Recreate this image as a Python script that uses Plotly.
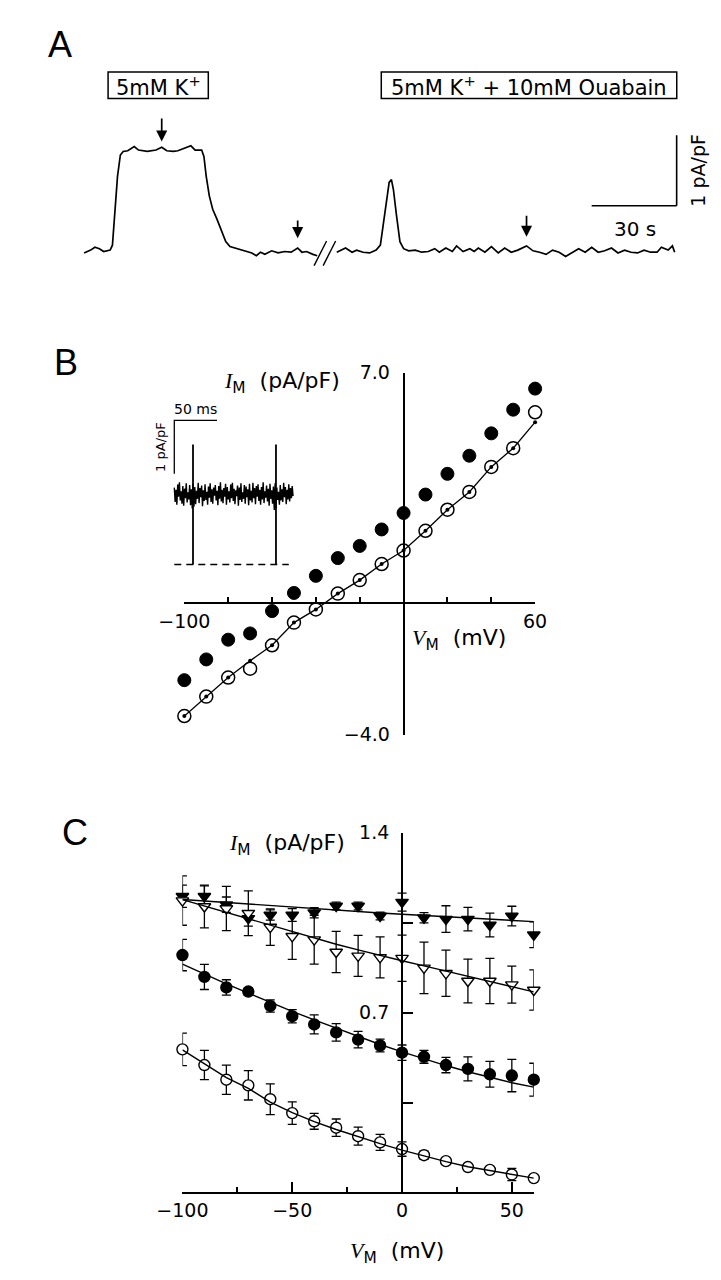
import plotly.graph_objects as go

W, H = 721, 1280


def fx(p):
    return p / W


def fy(p):
    return 1 - p / H


FONT = "DejaVu Sans"
LETTER_FONT = "Liberation Sans"

# ---------------- Panel A : current trace (pA/pF) vs time (s) ----------------
a_t1 = [0.0, 2.3, 3.8, 5.4, 6.9, 9.2, 10.0, 10.8, 11.8, 12.8, 13.8, 15.4, 17.7, 19.2, 22.3, 25.4, 27.4, 29.2,
        31.5, 33.1, 35.4, 37.7, 39.2, 41.5, 42.3, 43.1, 44.2, 45.4, 46.9, 48.5, 50.0, 51.5, 53.1, 55.4, 57.7,
        59.2, 60.8, 62.3, 63.8, 66.2, 68.5, 70.8, 73.1, 75.4, 76.9, 78.5, 80.8, 82.3]
a_i1 = [-0.01, 0.03, 0.07, 0.05, 0.01, 0.03, 0.10, 0.52, 1.08, 1.38, 1.43, 1.44, 1.50, 1.45, 1.43, 1.45, 1.49,
        1.44, 1.43, 1.44, 1.47, 1.51, 1.45, 1.45, 1.36, 1.08, 0.80, 0.61, 0.47, 0.31, 0.15, 0.08, 0.06, 0.03,
        0.0, -0.01, -0.05, 0.0, -0.03, 0.02, -0.01, 0.01, 0.0, 0.06, 0.0, 0.01, -0.03, -0.05]
a_t2 = [89.2, 90.8, 92.3, 94.6, 96.2, 98.5, 100.8, 103.1, 104.6, 105.4, 106.6, 107.7, 108.5, 109.2, 110.3,
        111.5, 112.8, 114.6, 116.9, 119.2, 121.5, 123.8, 125.4, 127.7, 130.0, 131.5, 133.8, 136.2, 137.7,
        139.2, 141.5, 143.8, 146.2, 148.5, 150.8, 153.1, 156.2, 158.5, 160.8, 163.1, 165.4, 167.7, 170.0,
        172.3, 174.6, 176.9, 179.2, 181.5, 183.8, 186.2, 188.5, 190.8, 193.1, 195.4, 197.7, 200.0, 202.3,
        203.8, 206.2, 207.7, 208.5]
a_i2 = [0.0, 0.03, 0.06, 0.0, 0.03, 0.0, -0.01, 0.03, 0.10, 0.33, 0.71, 0.99, 1.03, 0.89, 0.52, 0.15, 0.05,
        0.02, 0.03, 0.0, 0.01, 0.05, 0.0, 0.06, 0.01, 0.09, 0.01, 0.05, 0.01, 0.06, 0.0, 0.08, -0.01, 0.06,
        0.0, 0.03, 0.09, 0.02, 0.0, -0.03, 0.03, 0.0, -0.06, 0.0, 0.05, 0.0, 0.07, 0.0, 0.02, 0.06, -0.01,
        0.03, 0.0, -0.01, 0.03, 0.0, 0.0, 0.07, 0.03, 0.09, 0.0]
a_arrow_t = [27.4, 75.4, 156.2]
a_arrow_tip = [1.57, 0.20, 0.22]
a_arrow_tail = [1.92, 0.47, 0.54]
a_break_t = 85.0
a_bar_t_end = 209.2
a_bar_i0 = 0.66
a_bar_len_s = 30
a_bar_len_i = 1.0
a_box_labels = ["5mM K<sup>+</sup>", "5mM K<sup>+</sup> + 10mM Ouabain"]

# ---------------- Panel B : I-V (pA/pF vs mV) ----------------
vm_b = [-100, -90, -80, -70, -60, -50, -40, -30, -20, -10, 0, 10, 20, 30, 40, 50, 60]
b_open = [-3.43, -2.84, -2.26, -1.99, -1.28, -0.59, -0.19, 0.29, 0.70, 1.19, 1.60, 2.20, 2.84, 3.38, 4.14,
          4.71, 5.80]
b_open_fit = [-3.43, -2.84, -2.26, -1.75, -1.28, -0.59, -0.19, 0.29, 0.70, 1.19, 1.60, 2.20, 2.84, 3.38,
              4.14, 4.71, 5.50]
b_filled = [-2.34, -1.71, -1.11, -0.92, -0.24, 0.31, 0.83, 1.37, 1.74, 2.24, 2.74, 3.30, 3.93, 4.48, 5.16,
            5.88, 6.52]
b_xticks_major = [-100, 60]
b_xticks_minor = [-80, -60, -40, -20, 0, 20, 40]
b_xtick_text = ["\u2212100", "60"]
b_yticks = [-4.0, 7.0]
b_ytick_text = ["\u22124.0", "7.0"]

# inset of panel B: current (pA/pF) vs time (ms)
inset_dt_ms = 1.0
inset_noise = [1.44, 1.17, 1.40, 1.12, 1.50, 1.27, 1.54, 1.20, 1.37, 1.14,
               1.47, 1.10, 1.42, 1.24, 1.52, 1.16, 1.35, 1.22, 1.49, 1.11,
               1.41, 1.05, 1.51, 1.08, 1.45, 1.13, 1.38, 1.23, 1.53, 1.15,
               1.43, 1.26, 1.48, 1.09, 1.39, 1.19, 1.50, 1.21, 1.36, 1.12,
               1.46, 1.25, 1.52, 1.17, 1.41, 1.14, 1.44, 1.29, 1.49, 1.20,
               1.38, 1.11, 1.47, 1.23, 1.54, 1.18, 1.40, 1.15, 1.43, 1.27,
               1.51, 1.12, 1.45, 1.22, 1.37, 1.16, 1.50, 1.24, 1.53, 1.19,
               1.42, 1.13, 1.39, 1.28, 1.48, 1.10, 1.44, 1.21, 1.52, 1.17,
               1.35, 1.23, 1.49, 1.14, 1.46, 1.26, 1.41, 1.11, 1.51, 1.20,
               1.38, 1.16, 1.53, 1.24, 1.43, 1.13, 1.47, 1.27, 1.50, 1.19,
               1.40, 1.12, 1.45, 1.22, 1.54, 1.15, 1.37, 1.25, 1.48, 1.18,
               1.42, 1.10, 1.51, 1.23, 1.39, 1.14, 1.46, 1.02, 1.52, 1.06,
               1.44, 1.21, 1.36, 1.12, 1.49, 1.20, 1.41, 1.17, 1.53, 1.26,
               1.45, 1.13, 1.40, 1.22, 1.50, 1.18, 1.43, 1.24, 1.47, 1.28]
inset_spike_t = [21.9, 119.0]
inset_spike_top = [2.25, 2.25]
inset_spike_bottom = [0.0, 0.0]
inset_zero_t = [0.0, 134.0]
inset_bar_i0 = 1.70
inset_bar_len_ms = 50
inset_bar_len_i = 1.0

# ---------------- Panel C : mean I-V with SEM ----------------
vm_c = [-100, -90, -80, -70, -60, -50, -40, -30, -20, -10, 0, 10, 20, 30, 40, 50, 60]
c_tri_filled = [1.153, 1.153, 1.120, 1.067, 1.080, 1.080, 1.089, 1.115, 1.115, 1.076, 1.130, 1.069, 1.064,
                1.064, 1.041, 1.076, 1.003]
c_tri_filled_err = [0.043, 0.04, 0.03, 0.03, 0.02, 0.025, 0.02, 0.015, 0.015, 0.015, 0.035, 0.02, 0.052,
                    0.046, 0.046, 0.038, 0.05]
c_tri_filled_fit = [1.140, 1.134, 1.128, 1.122, 1.116, 1.110, 1.104, 1.099, 1.093, 1.088, 1.083, 1.078,
                    1.073, 1.068, 1.063, 1.058, 1.054]
c_tri_open = [1.136, 1.113, 1.105, 1.087, 1.033, 0.997, 0.984, 0.936, 0.921, 0.915, 0.912, 0.874, 0.853,
              0.823, 0.823, 0.809, 0.788]
c_tri_open_err = [0.096, 0.083, 0.086, 0.087, 0.071, 0.09, 0.095, 0.08, 0.08, 0.08, 0.09, 0.10, 0.09, 0.085,
                  0.088, 0.072, 0.078]
c_tri_open_fit = [1.140, 1.115, 1.090, 1.065, 1.040, 1.015, 0.990, 0.966, 0.944, 0.922, 0.902, 0.882, 0.862,
                  0.841, 0.821, 0.800, 0.781]
c_circ_filled = [0.924, 0.839, 0.798, 0.782, 0.726, 0.686, 0.654, 0.623, 0.595, 0.572, 0.544, 0.528, 0.496,
                 0.481, 0.460, 0.455, 0.439]
c_circ_filled_err = [0.061, 0.049, 0.03, 0.015, 0.024, 0.026, 0.037, 0.034, 0.032, 0.025, 0.03, 0.025, 0.03,
                     0.047, 0.05, 0.063, 0.064]
c_circ_filled_fit = [0.889, 0.850, 0.812, 0.776, 0.740, 0.705, 0.672, 0.640, 0.607, 0.576, 0.547, 0.520,
                     0.494, 0.470, 0.447, 0.427, 0.410]
c_circ_open = [0.557, 0.496, 0.439, 0.417, 0.363, 0.309, 0.277, 0.252, 0.219, 0.195, 0.169, 0.145, 0.122,
               0.099, 0.088, 0.070, 0.056]
c_circ_open_err = [0.063, 0.057, 0.057, 0.057, 0.06, 0.044, 0.031, 0.034, 0.035, 0.031, 0.028, 0.016, 0.01,
                   0.01, 0.01, 0.024, 0.01]
c_circ_open_fit = [0.555, 0.500, 0.447, 0.405, 0.352, 0.311, 0.276, 0.245, 0.217, 0.190, 0.165, 0.142, 0.120,
                   0.100, 0.085, 0.070, 0.056]
c_xticks_major = [-100, -50, 0, 50]
c_xtick_text = ["\u2212100", "\u221250", "0", "50"]
c_xticks_minor = [-75, -25, 25]
c_yticks_major = [0.7, 1.4]
c_ytick_text = ["0.7", "1.4"]
c_yticks_minor = [0.35, 1.05]

# ---------------- layout geometry (pixels) ----------------
A_T0_PX, A_PX_PER_S = 52.9, 2.99
A_BASE_PY, A_PX_PER_I = 237.3, 71.7
A_TOP_PY, A_BOT_PY = 0.0, 300.0

B_X0, B_X1 = 158.7, 529.0
B_Y_TOP, B_Y_BOT = 360.0, 728.3

IN_T0_PX, IN_PX_PER_MS = 148.1, 0.902
IN_ZERO_PY, IN_PX_PER_I = 555.0, 54.3
IN_L, IN_R, IN_T, IN_B = 110.0, 295.0, 380.0, 575.0

C_X0, C_X1 = 156.7, 527.6
C_Y_TOP, C_Y_BOT = 828.0, 1194.0

BLACK = "black"
fig = go.Figure()

# ---- Panel A trace ----
fig.add_trace(go.Scatter(x=a_t1 + [None] + a_t2, y=a_i1 + [None] + a_i2, mode="lines",
                         line=dict(color=BLACK, width=1.7), xaxis="x", yaxis="y",
                         hoverinfo="skip", showlegend=False))

# ---- Panel B inset ----
inset_t = [i * inset_dt_ms for i in range(len(inset_noise))]
fig.add_trace(go.Scatter(x=inset_t, y=inset_noise, mode="lines", line=dict(color=BLACK, width=1.4),
                         xaxis="x3", yaxis="y3", hoverinfo="skip", showlegend=False))
sx, sy = [], []
for t, top, bot in zip(inset_spike_t, inset_spike_top, inset_spike_bottom):
    sx += [t, t, None]
    sy += [top, bot, None]
fig.add_trace(go.Scatter(x=sx, y=sy, mode="lines", line=dict(color=BLACK, width=1.8),
                         xaxis="x3", yaxis="y3", hoverinfo="skip", showlegend=False))
fig.add_trace(go.Scatter(x=inset_zero_t, y=[0, 0], mode="lines",
                         line=dict(color=BLACK, width=1.6, dash="7px,5px"),
                         xaxis="x3", yaxis="y3", hoverinfo="skip", showlegend=False))
fig.add_trace(go.Scatter(x=[0, 0, inset_bar_len_ms],
                         y=[inset_bar_i0, inset_bar_i0 + inset_bar_len_i, inset_bar_i0 + inset_bar_len_i],
                         mode="lines", line=dict(color=BLACK, width=1.3),
                         xaxis="x3", yaxis="y3", hoverinfo="skip", showlegend=False))

# ---- Panel B data ----
fig.add_trace(go.Scatter(x=vm_b, y=b_filled, mode="markers",
                         marker=dict(symbol="circle", size=13, color=BLACK, line=dict(color=BLACK, width=1)),
                         xaxis="x2", yaxis="y2", cliponaxis=False, hoverinfo="skip", showlegend=False))
fig.add_trace(go.Scatter(x=vm_b, y=b_open, mode="markers",
                         marker=dict(symbol="circle", size=13, color="white", line=dict(color=BLACK, width=1.5)),
                         xaxis="x2", yaxis="y2", cliponaxis=False, hoverinfo="skip", showlegend=False))
fig.add_trace(go.Scatter(x=vm_b, y=b_open_fit, mode="lines+markers",
                         line=dict(color=BLACK, width=1.3), marker=dict(size=4, color=BLACK),
                         xaxis="x2", yaxis="y2", cliponaxis=False, hoverinfo="skip", showlegend=False))


# ---- Panel C data ----
def err(arr):
    return dict(type="data", array=arr, visible=True, color=BLACK, thickness=1.3, width=4.5)


series_c = [
    (c_tri_filled, c_tri_filled_err, "triangle-down", BLACK),
    (c_tri_open, c_tri_open_err, "triangle-down", "white"),
    (c_circ_filled, c_circ_filled_err, "circle", BLACK),
    (c_circ_open, c_circ_open_err, "circle", "white"),
]
for vals, errs, sym, fill in series_c:
    fig.add_trace(go.Scatter(x=vm_c, y=vals, mode="markers", error_y=err(errs),
                             marker=dict(symbol=sym, size=11, color=fill, line=dict(color=BLACK, width=1.4)),
                             xaxis="x4", yaxis="y4", cliponaxis=False, hoverinfo="skip", showlegend=False))
for fit in [c_tri_filled_fit, c_tri_open_fit, c_circ_filled_fit, c_circ_open_fit]:
    fig.add_trace(go.Scatter(x=vm_c, y=fit, mode="lines", line=dict(color=BLACK, width=1.4),
                             xaxis="x4", yaxis="y4", cliponaxis=False, hoverinfo="skip", showlegend=False))

# ---------------- axes ----------------
tickfont = dict(family=FONT, size=19, color=BLACK)
hidden = dict(visible=False, showgrid=False, zeroline=False, fixedrange=True)

b_zero_py = B_Y_TOP + (7 - 0) / 11 * (B_Y_BOT - B_Y_TOP)
b_zero_px = B_X0 + (0 + 100) / 160 * (B_X1 - B_X0)
c_zero_px = C_X0 + (0 + 100) / 160 * (C_X1 - C_X0)

axline = dict(showline=True, linecolor=BLACK, linewidth=1.8, showgrid=False, zeroline=False,
              ticks="inside", tickcolor=BLACK, tickwidth=1.6, tickfont=tickfont, tickmode="array")

layout = dict(
    width=W, height=H, margin=dict(l=0, r=0, t=0, b=0),
    paper_bgcolor="white", plot_bgcolor="rgba(0,0,0,0)", showlegend=False,
    xaxis=dict(domain=[0, 1], range=[(0 - A_T0_PX) / A_PX_PER_S, (W - A_T0_PX) / A_PX_PER_S],
               anchor="y", **hidden),
    yaxis=dict(domain=[fy(A_BOT_PY), fy(A_TOP_PY)],
               range=[(A_BASE_PY - A_BOT_PY) / A_PX_PER_I, (A_BASE_PY - A_TOP_PY) / A_PX_PER_I],
               anchor="x", **hidden),
    xaxis2=dict(domain=[fx(B_X0), fx(B_X1)], range=[-100, 60], anchor="free", position=fy(b_zero_py),
                tickvals=b_xticks_major, ticktext=b_xtick_text, ticklen=10, ticklabelstandoff=1,
                minor=dict(tickvals=b_xticks_minor, ticks="inside", ticklen=5, tickwidth=1.6, tickcolor=BLACK),
                **axline),
    yaxis2=dict(domain=[fy(B_Y_BOT), fy(B_Y_TOP)], range=[-4, 7], anchor="free", position=fx(b_zero_px),
                tickvals=b_yticks, ticktext=b_ytick_text, ticklen=10, ticklabelstandoff=9, **axline),
    xaxis3=dict(domain=[fx(IN_L), fx(IN_R)],
                range=[(IN_L - IN_T0_PX) / IN_PX_PER_MS, (IN_R - IN_T0_PX) / IN_PX_PER_MS],
                anchor="y3", **hidden),
    yaxis3=dict(domain=[fy(IN_B), fy(IN_T)],
                range=[(IN_ZERO_PY - IN_B) / IN_PX_PER_I, (IN_ZERO_PY - IN_T) / IN_PX_PER_I],
                anchor="x3", **hidden),
    xaxis4=dict(domain=[fx(C_X0), fx(C_X1)], range=[-100, 60], anchor="y4",
                tickvals=c_xticks_major, ticktext=c_xtick_text, ticklen=11, ticklabelstandoff=0,
                minor=dict(tickvals=c_xticks_minor, ticks="inside", ticklen=6, tickwidth=1.6, tickcolor=BLACK),
                **axline),
    yaxis4=dict(domain=[fy(C_Y_BOT), fy(C_Y_TOP)], range=[0, 1.4], anchor="free", position=fx(c_zero_px),
                tickvals=c_yticks_major, ticktext=c_ytick_text, ticklen=10, ticklabelstandoff=8,
                minor=dict(tickvals=c_yticks_minor, ticks="inside", ticklen=10, tickwidth=1.6, tickcolor=BLACK),
                **axline),
)
fig.update_layout(**layout)

# ---------------- shapes ----------------
shapes = []
for (x0, x1) in [(78.2, 184.0), (366.6, 678.5)]:
    shapes.append(dict(type="rect", xref="paper", yref="paper", x0=fx(x0), x1=fx(x1), y0=fy(81), y1=fy(54),
                       line=dict(color=BLACK, width=1.5), fillcolor="rgba(0,0,0,0)"))
for off in (-1.6, 1.6):
    shapes.append(dict(type="line", xref="x", yref="y", x0=a_break_t + off - 2.2, y0=-0.19,
                       x1=a_break_t + off + 2.2, y1=0.16, line=dict(color=BLACK, width=1.4)))
shapes.append(dict(type="line", xref="x", yref="y", x0=a_bar_t_end, y0=a_bar_i0, x1=a_bar_t_end,
                   y1=a_bar_i0 + a_bar_len_i, line=dict(color=BLACK, width=1.6)))
shapes.append(dict(type="line", xref="x", yref="y", x0=a_bar_t_end - a_bar_len_s, y0=a_bar_i0, x1=a_bar_t_end,
                   y1=a_bar_i0, line=dict(color=BLACK, width=1.6)))
fig.update_layout(shapes=shapes)

# ---------------- annotations ----------------
ann = []


def txt(x, y, text, size=19, family=FONT, xanchor="center", yanchor="middle", textangle=0, xref="paper",
        yref="paper"):
    ann.append(dict(x=x, y=y, xref=xref, yref=yref, text=text, showarrow=False, xanchor=xanchor,
                    yanchor=yanchor, textangle=textangle, font=dict(family=family, size=size, color=BLACK)))


txt(fx(27.6), fy(26), "A", size=36, family=LETTER_FONT)
txt(fx(33.4), fy(349), "B", size=36, family=LETTER_FONT)
txt(fx(43.7), fy(828), "C", size=36, family=LETTER_FONT)

txt(fx(131.1), fy(68), a_box_labels[0], size=21)
txt(fx(522.5), fy(68), a_box_labels[1], size=21)
txt(216.8, a_bar_i0 + a_bar_len_i / 2, "1 pA/pF", size=19, textangle=-90, xref="x", yref="y")
txt(194.5, 0.33, "30 s", size=20, xref="x", yref="y")
for t, tip, tail in zip(a_arrow_t, a_arrow_tip, a_arrow_tail):
    ann.append(dict(x=t, y=tip, ax=t, ay=tail, xref="x", yref="y", axref="x", ayref="y", text="",
                    showarrow=True, arrowhead=2, arrowsize=1.3, arrowwidth=1.7, arrowcolor=BLACK))

i_lab = '<span style="font-family:Liberation Serif"><i>I</i></span><sub>M</sub>  (pA/pF)'
v_lab = '<span style="font-family:Liberation Serif"><i>V</i></span><sub>M</sub>  (mV)'
txt(fx(325), fy(370), i_lab, size=22, xanchor="right")
txt(fx(500), fy(631), v_lab, size=22, xanchor="right")
txt(24.5, 2.92, "50 ms", size=14, xref="x3", yref="y3")
txt(-16.3, 2.21, "1 pA/pF", size=13, textangle=-90, xref="x3", yref="y3")

txt(fx(330), fy(840), i_lab, size=22, xanchor="right")
txt(fx(435), fy(1255), v_lab, size=22, xanchor="right")

fig.update_layout(annotations=ann)

fig.write_html("out.html")
